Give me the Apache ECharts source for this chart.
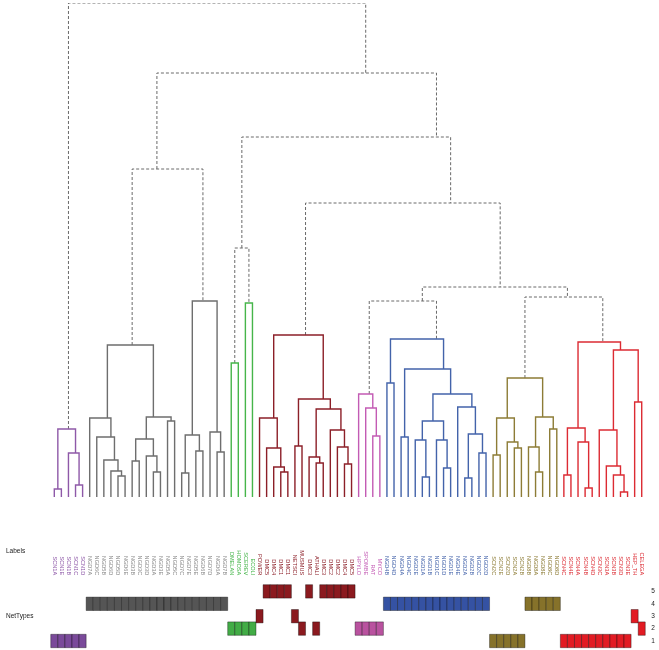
<!DOCTYPE html>
<html><head><meta charset="utf-8">
<script src="https://cdn.jsdelivr.net/npm/echarts/dist/echarts.min.js"></script>
<style>html,body{margin:0;padding:0;background:#fff}#c{width:659px;height:650px}</style>
</head><body><div id="c"></div>
<script>
// leaf labels in dendrogram order
const leafLabels = ["SCN1A","SCN1E","SCN1B","SCN1C","SCN1D",
 "NGD7A","NGD6C","NGD5B","NGD6D","NGD5D","NGD6E","NGD3B","NGD3C","NGD3D","NGD3A","NGD3E","NGD5A","NGD5C","NGD7C","NGD7E","NGD5E","NGD6B","NGD7D","NGD6A","NGD7B",
 "DMELAN","HOMOSA","SCEREV","ECOLI",
 "POWER","DMC5","DMC4","DMC1","DMC1","NETSCI","MUSMUS","DMC3","ATHALI","DMC3","DMC2","DMC2","DMC4","DMC5",
 "HPYLO","SPOMBE","RAT","MYCO",
 "NGD4B","NGD4D","NGD4A","NGD4C","NGD2E","NGD1A","NGD1B","NGD1C","NGD1D","NGD1E","NGD4E","NGD2A","NGD2B","NGD2C","NGD2D",
 "SCN2C","SCN2E","SCN2D","SCN2A","SCN2B","NGD8B","NGD8A","NGD8E","NGD8C","NGD8D",
 "SCN4C","SCN4E","SCN4A","SCN4B","SCN4D","SCN3C","SCN3A","SCN3B","SCN3D","SCN3E","HEP_TH","CELEGA"];
// module (sub-cluster) of each leaf
const leafGroup = [0,0,0,0,0,
 1,1,1,1,1,1,1,1,1,1,1,1,1, 2,2,2,2,2,2,2,
 3,3,4,4,
 5,5,5,5,5,5,5,5,5,5,5,5,5,5,
 6,6,6,6,
 7,7,7,7,7,7,7,7,7,7,7,7,7,7,7,
 8,8,8,8,8,8,8,8,8,8,
 9,9,9,9,9,9,9,9,9,9,9,9];
// colour family of each module
const groupFamily = [0,1,1,2,2,3,4,5,6,7];
const familyLineColors = ["#8e59a8","#6e6e6e","#46b54a","#8c1f28","#c35bb4","#4363aa","#8d7c36","#dc2b33"];
const familyBoxColors  = ["#7a4a9a","#555555","#42ac46","#8b1a1f","#b9529f","#3552a3","#86722a","#e21b23"];
const familyLabelColors= ["#8e59a8","#8a8a8a","#46b54a","#8c1f28","#c35bb4","#4363aa","#8d7c36","#dc2b33"];
// network type of each leaf (row 1..5)
const netType = [1,1,1,1,1,
 4,4,4,4,4,4,4,4,4,4,4,4,4,4,4,4,4,4,4,4,
 2,2,2,2,
 3,5,5,5,5,3,2,5,2,5,5,5,5,5,
 2,2,2,2,
 4,4,4,4,4,4,4,4,4,4,4,4,4,4,4,
 1,1,1,1,1,4,4,4,4,4,
 1,1,1,1,1,1,1,1,1,1,3,2];
const rowLabels = ["1","2","3","4","5"];
// merges: [childA, childB, height]; "Lk" = leaf k, number = earlier merge (1-based)
const merges = [
 ["L0","L1",8],["L3","L4",12],["L2",2,44],[1,3,68],
 ["L9","L10",21],["L8",5,26],["L7",6,37],["L6",7,60],["L5",8,79],
 ["L11","L12",36],["L14","L15",25],["L13",11,41],[10,12,58],["L16","L17",76],[13,14,80],[9,15,152],
 ["L18","L19",24],["L20","L21",46],[17,18,62],["L23","L24",45],["L22",20,65],[19,21,196],[16,22,328],
 ["L25","L26",134],["L27","L28",194],[24,25,249],
 ["L32","L33",25],["L31",27,30],["L30",28,49],["L29",29,79],["L34","L35",51],["L37","L38",34],["L36",32,40],
 ["L41","L42",33],["L40",34,50],["L39",35,67],[33,36,88],[31,37,98],[30,38,162],
 ["L45","L46",61],["L44",40,89],["L43",41,103],
 ["L47","L48",114],["L49","L50",60],["L52","L53",20],["L51",45,57],["L55","L56",29],["L54",47,57],[46,48,76],
 ["L58","L59",19],["L60","L61",44],[50,51,63],["L57",52,90],[49,53,103],[44,54,128],[43,55,158],
 [42,56,196],
 ["L62","L63",42],["L65","L66",49],["L64",59,55],[58,60,79],["L68","L69",25],["L67",62,50],["L70","L71",68],[63,64,80],[61,65,119],
 ["L72","L73",22],["L75","L76",9],["L74",68,55],[67,69,69],["L80","L81",5],["L79",71,22],["L78",72,31],["L77",73,67],["L82","L83",95],[74,75,147],[70,76,155],
 [66,77,200],[57,78,210],[39,79,294],[26,80,360],[23,81,424],[4,82,494]
];

// ---- build dendrogram segments ----
const nodes = [];
function childInfo(c){
  if (typeof c === "string"){ const i = +c.slice(1); return {x:i, h:0, leaves:[i]}; }
  return nodes[c-1];
}
const dashedLines = [], solidLines = [];
merges.forEach(m => {
  const a = childInfo(m[0]), b = childInfo(m[1]);
  const leaves = a.leaves.concat(b.leaves);
  const x = leaves.reduce((s,v)=>s+v,0)/leaves.length;
  nodes.push({x:x, h:m[2], leaves:leaves});
  const g0 = leafGroup[leaves[0]];
  const same = leaves.every(l => leafGroup[l] === g0);
  const coords = [[a.x,a.h],[a.x,m[2]],[b.x,m[2]],[b.x,b.h]];
  if (same) solidLines.push({coords:coords, lineStyle:{color:familyLineColors[groupFamily[g0]], width:1.4, type:"solid", opacity:1}});
  else dashedLines.push({coords:coords, lineStyle:{color:"#6a6a6a", width:1, type:[3,2], opacity:1}});
});

const boxData = [];
netType.forEach((r,i) => { if (r>0) boxData.push([i, r-1, groupFamily[leafGroup[i]]]); });

const chart = echarts.init(document.getElementById('c'), null, {renderer:'canvas'});
const gl = 50.76, gw = 594.5;
chart.setOption({
  animation:false,
  backgroundColor:'#ffffff',
  textStyle:{fontFamily:'Liberation Sans, Arial, sans-serif'},
  grid:[
    {left:gl, width:gw, top:3, height:494},
    {left:gl, width:gw, top:585.2, height:62}
  ],
  xAxis:[
    {type:'value', gridIndex:0, min:-0.5, max:83.5, show:false},
    {type:'category', gridIndex:1, position:'top',
     data: leafLabels.map((s,i)=>({value:s, textStyle:{color:familyLabelColors[groupFamily[leafGroup[i]]]}})),
     axisLine:{show:false}, axisTick:{show:false}, splitLine:{show:false},
     axisLabel:{interval:0, rotate:90, fontSize:5.6, margin:10, fontFamily:'Liberation Sans'}}
  ],
  yAxis:[
    {type:'value', gridIndex:0, min:0, max:494, show:false},
    {type:'category', gridIndex:1, position:'right', data:rowLabels,
     axisLine:{show:false}, axisTick:{show:false}, splitLine:{show:false},
     axisLabel:{fontSize:6.5, margin:6, color:'#222', fontFamily:'Liberation Sans'}}
  ],
  graphic:[
    {type:'text', left:6, top:547.5, style:{text:'Labels', fontSize:6.5, fill:'#222', fontFamily:'Liberation Sans'}},
    {type:'text', left:6, top:612.5, style:{text:'NetTypes', fontSize:6.5, fill:'#222', fontFamily:'Liberation Sans'}}
  ],
  series:[
    {type:'lines', coordinateSystem:'cartesian2d', xAxisIndex:0, yAxisIndex:0, polyline:true, silent:true, data:dashedLines},
    {type:'lines', coordinateSystem:'cartesian2d', xAxisIndex:0, yAxisIndex:0, polyline:true, silent:true, data:solidLines},
    {type:'custom', xAxisIndex:1, yAxisIndex:1, silent:true, data:boxData,
     renderItem:function(params, api){
       const p = api.coord([api.value(0), api.value(1)]);
       const s = api.size([1,1]);
       return {type:'rect', shape:{x:p[0]-s[0]/2, y:p[1]-6.7, width:s[0], height:13.4},
         style:{fill:familyBoxColors[api.value(2)], stroke:'rgba(0,0,0,0.45)', lineWidth:0.8}};
     }}
  ]
});
</script></body></html>
